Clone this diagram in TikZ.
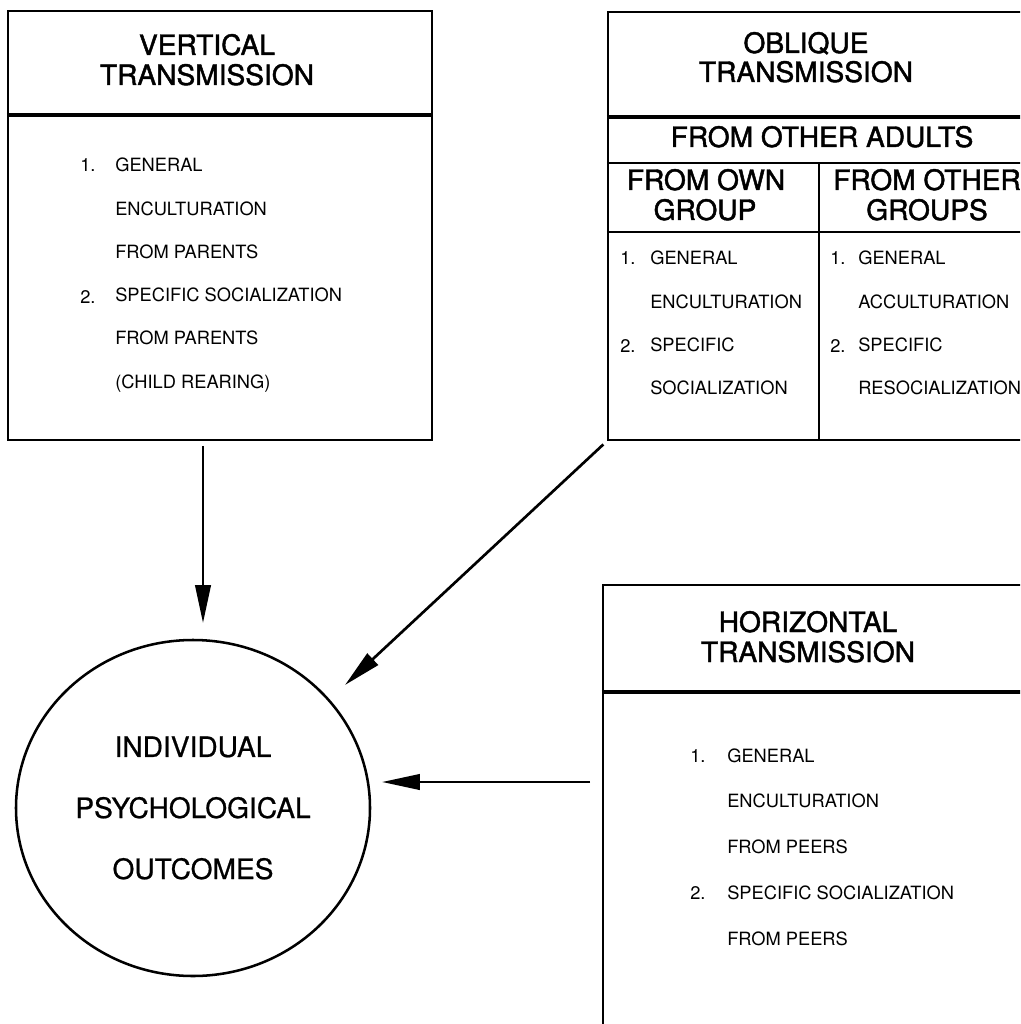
\documentclass[tikz,border=0pt]{standalone}
\usepackage{fontspec}
\setmainfont{TeX Gyre Heros}
\newfontfamily\grasfont[FakeBold=1.6]{TeX Gyre Heros}
\newfontfamily\demifont[FakeBold=0.7]{TeX Gyre Heros}
\usepackage{tikz}
\usetikzlibrary{shapes.geometric,arrows.meta}
\newcommand{\pxu}{0.025cm}
\tikzset{
	boite/.style={draw,line width=1.5pt,rectangle,inner sep=0pt},
	separ/.style={line width=2.2pt},
	titre/.style={font=\grasfont\fontsize{20}{21}\selectfont,anchor=base,inner sep=0pt},
	ligne/.style={font=\fontsize{13}{13}\selectfont,anchor=base west,inner sep=0pt},
	fleche/.style={line width=1.9pt,-{Triangle[length=27pt,width=11pt]}},
	issue/.style={draw,ellipse,line width=1.8pt,align=center,font=\demifont\fontsize{20}{43.4}\selectfont}
}

\begin{document}
\begin{tikzpicture}[x=\pxu,y=-\pxu]
	\useasboundingbox (0,0) rectangle (1020,1024);
	\clip (0,0) rectangle (1020,1024); % les boites de droite sortent du cadre
	
	%Boites
	\node[boite,minimum width=424*\pxu,minimum height=429*\pxu] (vert) at (220,225.5) {};
	\node[boite,minimum width=427*\pxu,minimum height=428*\pxu] (obl) at (821.5,226) {};
	\node[boite,minimum width=437*\pxu,minimum height=455*\pxu] (hor) at (821.5,812.5) {};
	
	%Separations
	\draw[separ] (vert.west |- 0,115) -- (vert.east |- 0,115);
	\draw[separ] (obl.west |- 0,117) -- (obl.east |- 0,117);
	\draw[line width=1.5pt] (obl.west |- 0,163) -- (obl.east |- 0,163);
	\draw[line width=1.5pt] (obl.west |- 0,232) -- (obl.east |- 0,232);
	\draw[line width=1.5pt] (819,163) -- (819,163 |- obl.south);
	\draw[separ] (hor.west |- 0,692) -- (hor.east |- 0,692);
	
	%Titres
	\node[titre] (vertA) at (207,55) {VERTICAL};
	\node[titre] (vertB) at (207,85) {TRANSMISSION};
	\node[titre] (oblA) at (806,53) {OBLIQUE};
	\node[titre] (oblB) at (806,82) {TRANSMISSION};
	\node[titre] (adultes) at (822,147) {FROM OTHER ADULTS};
	\node[titre] (propreA) at (706,190) {FROM OWN};
	\node[titre] (propreB) at (705,220) {GROUP};
	\node[titre] (autresA) at (927,190) {FROM OTHER};
	\node[titre] (autresB) at (927,220) {GROUPS};
	\node[titre] (horA) at (808,632) {HORIZONTAL};
	\node[titre] (horB) at (808,662) {TRANSMISSION};
	
	%Listes
	\node[ligne] (vn1) at (80,172) {1.};
	\node[ligne] (vn2) at (80,303) {2.};
	\foreach \texte [count=\i] in {GENERAL,ENCULTURATION,FROM PARENTS,SPECIFIC SOCIALIZATION,FROM PARENTS,{(CHILD REARING)}}
		\node[ligne] (vl\i) at (115,{172+43.2*(\i-1)}) {\texte};
	
	\node[ligne] (pn1) at (620,265) {1.};
	\node[ligne] (pn2) at (620,352) {2.};
	\foreach \texte [count=\i] in {GENERAL,ENCULTURATION,SPECIFIC,SOCIALIZATION}
		\node[ligne] (pl\i) at (650,{265+43.3*(\i-1)}) {\texte};
	
	\node[ligne] (an1) at (830,265) {1.};
	\node[ligne] (an2) at (830,352) {2.};
	\foreach \texte [count=\i] in {GENERAL,ACCULTURATION,SPECIFIC,RESOCIALIZATION}
		\node[ligne] (al\i) at (858,{265+43.3*(\i-1)}) {\texte};
	
	\node[ligne] (hn1) at (690,762) {1.};
	\node[ligne] (hn2) at (690,899) {2.};
	\foreach \texte [count=\i] in {GENERAL,ENCULTURATION,FROM PEERS,SPECIFIC SOCIALIZATION,FROM PEERS}
		\node[ligne] (hl\i) at (727,{762+45.75*(\i-1)}) {\texte};
	
	%Cercle
	\node[issue,minimum width=354*\pxu,minimum height=336*\pxu] (indiv) at (193,808) {INDIVIDUAL\\PSYCHOLOGICAL\\OUTCOMES};
	
	%Fleches
	\coordinate (pointeV) at (203,623);
	\coordinate (pointeO) at (345,685);
	\coordinate (pointeH) at (382,782);
	\draw[fleche,shorten <=3.5pt] (pointeV |- vert.south) -- (pointeV);
	\draw[fleche,shorten <=3.5pt] (obl.south west) -- (pointeO);
	\draw[fleche,shorten <=8.5pt] (hor.west |- pointeH) -- (pointeH);
	
\end{tikzpicture}
\end{document}
